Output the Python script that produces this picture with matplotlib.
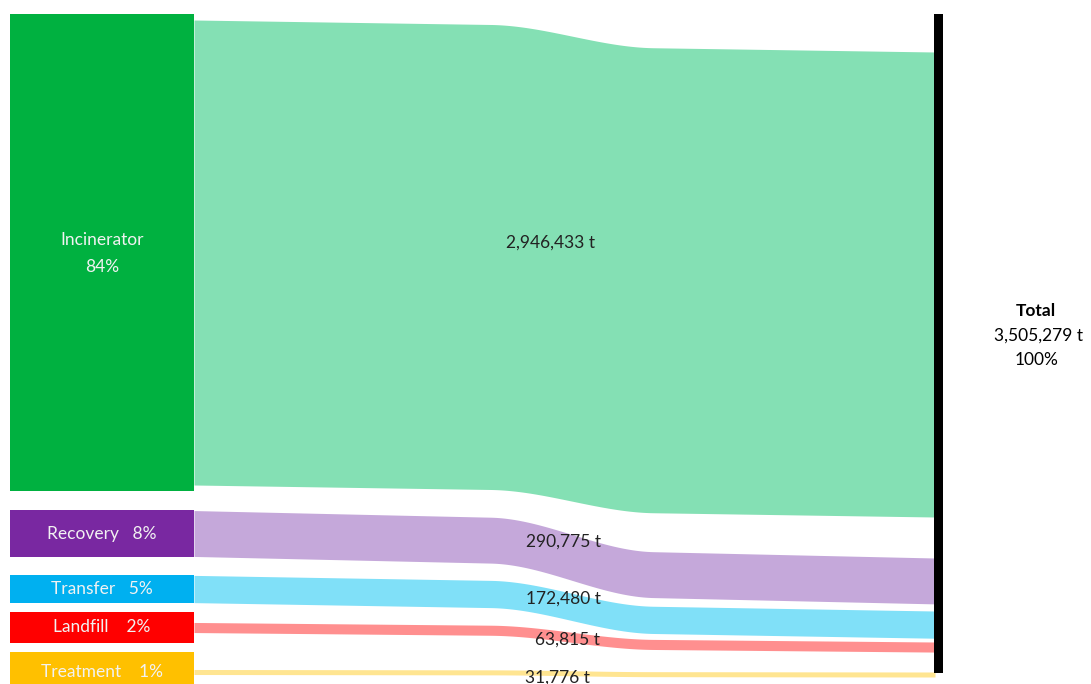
import numpy as np
import matplotlib.pyplot as plt
from matplotlib.patches import Rectangle

# data
sources = ["Incinerator", "Recovery", "Transfer", "Landfill", "Treatment"]
tonnes = [2946433, 290775, 172480, 63815, 31776]
shares = ["84%", "8%", "5%", "2%", "1%"]
total_label = "3,505,279 t"

node_colors = ["#00b140", "#7928a1", "#00b0f0", "#ff0000", "#ffc000"]
flow_colors = ["#84e0b4", "#c5a8da", "#80e0f8", "#ff8f8f", "#ffe591"]

# layout (pixel space)
node_top = [14, 510, 575, 612, 652]
node_h = [477, 47, 28, 31, 40]
dst_top = [52, 558, 611, 642, 672]
gap = ["", "   ", "   ", "    ", "    "]
x0, x1 = 194, 935
px_per_t = 465 / tonnes[0]

plt.rcParams['font.family'] = ['Lato', 'DejaVu Sans']
FS = 12.5

fig = plt.figure(figsize=(10.91, 6.84), dpi=100)
ax = fig.add_axes([0, 0, 1, 1])
ax.set_xlim(0, 1091)
ax.set_ylim(684, 0)
ax.axis('off')


def shape(t):
    s = np.clip((t - 0.40) / 0.22, 0, 1)
    s = s * s * (3 - 2 * s)
    return 0.35 * t + 0.65 * s


xs = np.linspace(x0, x1, 300)
t = (xs - x0) / (x1 - x0)

label_x = [551, 563, 563, 567, 557]
label_y = [243, 542, 599, 640, 678]

for i, name in enumerate(sources):
    h = tonnes[i] * px_per_t
    # node
    ax.add_patch(Rectangle((10, node_top[i]), x0 - 10, node_h[i],
                           color=node_colors[i], lw=0, zorder=2))
    # flow band
    src = node_top[i] + node_h[i] / 2 - h / 2
    top = src + (dst_top[i] - src) * shape(t)
    ax.fill_between(xs, top, top + h, color=flow_colors[i], lw=0, zorder=1)
    # labels
    cy = node_top[i] + node_h[i] / 2
    if i == 0:
        ax.text(102, cy + 1, name + "\n" + shares[i], color="#f2f2f2", fontsize=FS,
                ha="center", va="center", linespacing=1.9, zorder=3)
    else:
        ax.text(102, min(cy, 672), name + gap[i] + shares[i], color="#f2f2f2",
                fontsize=FS, ha="center", va="center", zorder=3)
    ax.text(label_x[i], label_y[i], f"{tonnes[i]:,} t", color="#222222",
            fontsize=FS, ha="center", va="center", zorder=3)

# total bar
ax.add_patch(Rectangle((934, 14), 9, 659, color="black", lw=0, zorder=4))
ax.text(1036, 311, "Total", fontsize=FS, fontweight="bold", ha="center", va="center")
ax.text(1038, 336, total_label, fontsize=FS, ha="center", va="center")
ax.text(1037, 360, "100%", fontsize=FS, ha="center", va="center")

fig.savefig("out.png", dpi=100)
